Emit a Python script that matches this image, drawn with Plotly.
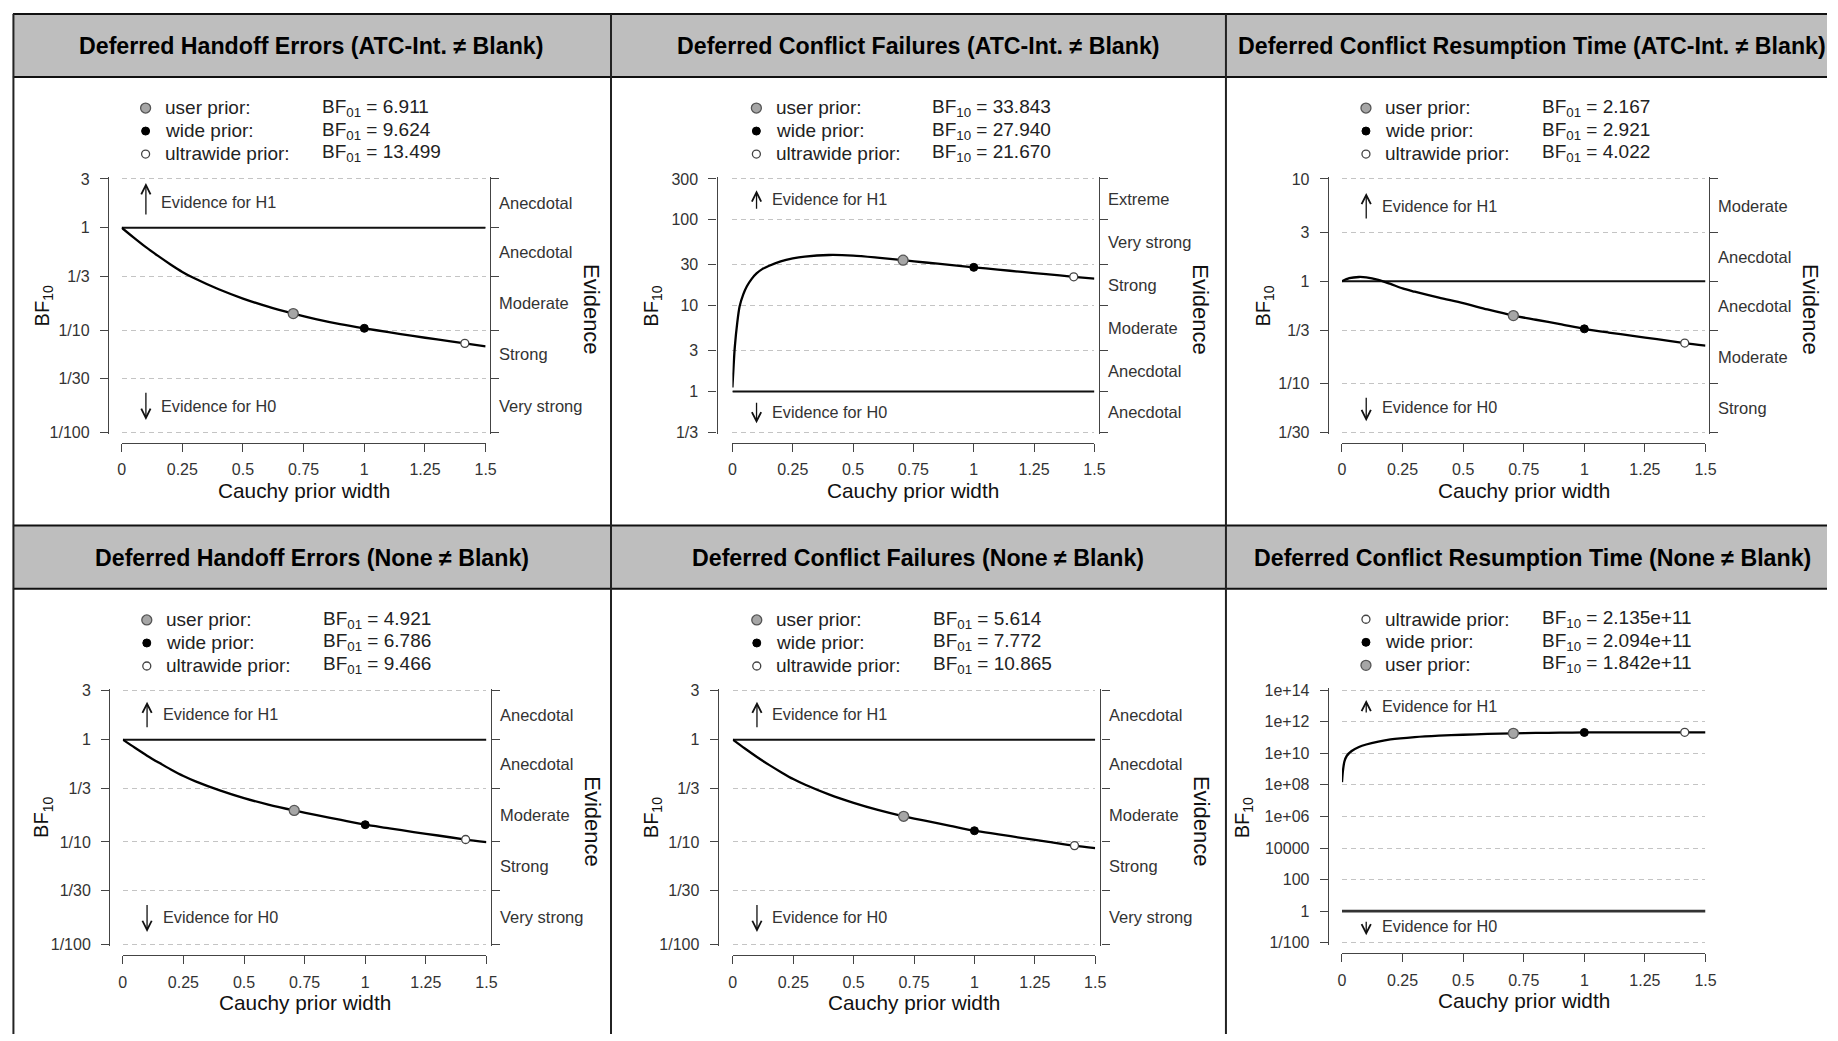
import math
import plotly.graph_objects as go

W, H = 1838, 1041
FONT = "Liberation Sans, Arial, sans-serif"

# ---------------- data ----------------
panel_titles = [
    "Deferred Handoff Errors (ATC-Int. ≠ Blank)",
    "Deferred Conflict Failures (ATC-Int. ≠ Blank)",
    "Deferred Conflict Resumption Time (ATC-Int. ≠ Blank)",
    "Deferred Handoff Errors (None ≠ Blank)",
    "Deferred Conflict Failures (None ≠ Blank)",
    "Deferred Conflict Resumption Time (None ≠ Blank)",
]

x_tick_vals = [0, 0.25, 0.5, 0.75, 1, 1.25, 1.5]
x_tick_text = ["0", "0.25", "0.5", "0.75", "1", "1.25", "1.5"]

prior_names = ["user prior:", "wide prior:", "ultrawide prior:"]
prior_widths = [0.7071, 1.0, 1.4142]

bf_kind = ["01", "10", "01", "01", "01", "10"]
bf_user = [6.911, 33.843, 2.167, 4.921, 5.614, 1.842e11]
bf_wide = [9.624, 27.940, 2.921, 6.786, 7.772, 2.094e11]
bf_ultra = [13.499, 21.670, 4.022, 9.466, 10.865, 2.135e11]
legend_order = [[0, 1, 2], [0, 1, 2], [0, 1, 2], [0, 1, 2], [0, 1, 2], [2, 1, 0]]

# robustness curves (BF10 against Cauchy prior width)
p1_x = [0, 0.05, 0.1, 0.15, 0.2, 0.25, 0.3, 0.4, 0.5, 0.6, 0.7071, 0.8, 0.9, 1.0, 1.1, 1.2, 1.3, 1.4142, 1.5]
p1_y = [1.0, 0.80, 0.645, 0.53, 0.44, 0.37, 0.32, 0.25, 0.203, 0.170, 0.1447, 0.128, 0.1143, 0.1039, 0.0953,
        0.0875, 0.0809, 0.0741, 0.0692]

p2_x = [0, 0.005, 0.01, 0.02, 0.03, 0.045, 0.06, 0.08, 0.1, 0.125, 0.15, 0.2, 0.25, 0.3, 0.4, 0.5, 0.6,
        0.7071, 0.8, 0.9, 1.0, 1.1, 1.2, 1.3, 1.4142, 1.5]
p2_y = [1.11, 2.0, 3.3, 6.3, 9.8, 13.5, 16.8, 20.5, 23.7, 26.8, 29.0, 32.8, 35.5, 37.3, 38.9, 38.3, 36.3,
        33.843, 31.8, 29.85, 27.94, 26.3, 24.7, 23.3, 21.67, 20.6]

p3_x = [0, 0.03, 0.07, 0.1, 0.15, 0.2, 0.25, 0.3, 0.4, 0.5, 0.6, 0.7071, 0.8, 0.9, 1.0, 1.1, 1.2, 1.3, 1.4142, 1.5]
p3_y = [1.0, 1.07, 1.10, 1.09, 1.03, 0.94, 0.85, 0.79, 0.69, 0.61, 0.53, 0.4615, 0.42, 0.38, 0.3423, 0.315,
        0.292, 0.271, 0.2486, 0.235]

p4_x = [0, 0.05, 0.1, 0.15, 0.2, 0.25, 0.3, 0.4, 0.5, 0.6, 0.7071, 0.8, 0.9, 1.0, 1.1, 1.2, 1.3, 1.4142, 1.5]
p4_y = [1.0, 0.832, 0.697, 0.593, 0.508, 0.441, 0.391, 0.319, 0.268, 0.232, 0.2032, 0.183, 0.164, 0.1474,
        0.136, 0.125, 0.1156, 0.1056, 0.0998]

p5_x = [0, 0.05, 0.1, 0.15, 0.2, 0.25, 0.3, 0.4, 0.5, 0.6, 0.7071, 0.8, 0.9, 1.0, 1.1, 1.2, 1.3, 1.4142, 1.5]
p5_y = [1.0, 0.819, 0.677, 0.567, 0.481, 0.412, 0.362, 0.290, 0.241, 0.2056, 0.1781, 0.1607, 0.1439, 0.1287,
        0.1186, 0.1091, 0.1009, 0.0920, 0.0871]

p6_x = [0, 0.004, 0.01, 0.02, 0.04, 0.07, 0.1, 0.15, 0.2, 0.3, 0.4, 0.5, 0.6, 0.7071, 0.8, 0.9, 1.0, 1.1, 1.2,
        1.3, 1.4142, 1.5]
p6_y = [1.5e8, 8e8, 3e9, 7e9, 1.4e10, 2.5e10, 3.6e10, 5.5e10, 7.5e10, 1.05e11, 1.3e11, 1.5e11, 1.68e11,
        1.842e11, 1.95e11, 2.03e11, 2.094e11, 2.115e11, 2.127e11, 2.132e11, 2.135e11, 2.136e11]

curves_x = [p1_x, p2_x, p3_x, p4_x, p5_x, p6_x]
curves_y = [p1_y, p2_y, p3_y, p4_y, p5_y, p6_y]

ticks_a = [3, 1, 1 / 3, 1 / 10, 1 / 30, 1 / 100]
ticks_a_text = ["3", "1", "1/3", "1/10", "1/30", "1/100"]
ticks_b = [300, 100, 30, 10, 3, 1, 1 / 3]
ticks_b_text = ["300", "100", "30", "10", "3", "1", "1/3"]
ticks_c = [10, 3, 1, 1 / 3, 1 / 10, 1 / 30]
ticks_c_text = ["10", "3", "1", "1/3", "1/10", "1/30"]
ticks_d = [1e14, 1e12, 1e10, 1e8, 1e6, 1e4, 100, 1, 1 / 100]
ticks_d_text = ["1e+14", "1e+12", "1e+10", "1e+08", "1e+06", "10000", "100", "1", "1/100"]

evid_a = ["Anecdotal", "Anecdotal", "Moderate", "Strong", "Very strong"]
evid_b = ["Extreme", "Very strong", "Strong", "Moderate", "Anecdotal", "Anecdotal"]
evid_c = ["Moderate", "Anecdotal", "Anecdotal", "Moderate", "Strong"]

panel_ticks = [ticks_a, ticks_b, ticks_c, ticks_a, ticks_a, ticks_d]
panel_ticks_text = [ticks_a_text, ticks_b_text, ticks_c_text, ticks_a_text, ticks_a_text, ticks_d_text]
panel_evid = [evid_a, evid_b, evid_c, evid_a, evid_a, None]

# ---------------- geometry (pixels) ----------------
geom = [
    dict(x0=118.6, x1=485.6, yt=175.1, yb=431.7, yl=104.8, xl=442.2, ra=490.3, bfx=39.5, bfy=304,
         h1=(195.8, 33, 198.4), h0=(404.8, 28.7, 404.7), cx=310.5, head=40),
    dict(x0=734.4, x1=1099.4, yt=175.1, yb=431.7, yl=718.4, xl=442.2, ra=1104.2, bfx=653.8, bfy=304,
         h1=(196.7, 20, 195.5), h0=(411.6, 22, 410.7), cx=922, head=40),
    dict(x0=1349, x1=1715.5, yt=175.1, yb=431.7, yl=1334.7, xl=442.2, ra=1719.3, bfx=1270.7, bfy=304,
         h1=(202.8, 27, 202.2), h0=(408, 25, 406.4), cx=1541, head=40),
    dict(x0=119.8, x1=486.4, yt=693.5, yb=950.1, yl=106, xl=961.2, ra=491.1, bfx=39.5, bfy=822,
         h1=(718, 27, 717.3), h0=(923.5, 28.5, 922.6), cx=310.5, head=558.6),
    dict(x0=734.8, x1=1100.2, yt=693.5, yb=950.1, yl=719.6, xl=961.2, ra=1105.4, bfx=653.8, bfy=822,
         h1=(718, 27, 717.3), h0=(923.5, 28.5, 922.6), cx=922, head=558.6),
    dict(x0=1349, x1=1715.5, yt=692.8, yb=948.6, yl=1334.7, xl=959.2, ra=None, bfx=1249.4, bfy=822.3,
         h1=(709.7, 14, 708.7), h0=(933.6, 15, 932), cx=1541, head=558.6),
]


def px(x):
    return x / W


def py(y):
    return 1 - y / H


AX_COL = "#444444"
TXT_COL = "#333333"

fig = go.Figure()
layout = dict(
    width=W, height=H, margin=dict(l=0, r=0, t=0, b=0),
    paper_bgcolor="white", plot_bgcolor="rgba(0,0,0,0)",
    font=dict(family=FONT, color="#222222"),
    showlegend=True, hovermode=False,
)
annotations = []
shapes = []

marker_styles = [
    dict(size=10, color="#a6a6a6", line=dict(color="#555555", width=1.3)),
    dict(size=8, color="#000000", line=dict(color="#000000", width=1)),
    dict(size=8, color="#ffffff", line=dict(color="#444444", width=1.3)),
]

for i in range(6):
    g = geom[i]
    n = i + 1
    sfx = "" if n == 1 else str(n)
    xref, yref = "x" + sfx, "y" + sfx
    tv = panel_ticks[i]
    hi, lo = math.log10(tv[0]), math.log10(tv[-1])
    dpp = (hi - lo) / (g["yb"] - g["yt"])
    pad = 2
    yrange = [lo - pad * dpp, hi + pad * dpp]
    ydom = [py(g["yb"] + pad), py(g["yt"] - pad)]

    layout["xaxis" + sfx] = dict(
        domain=[px(g["x0"]), px(g["x1"])], range=[0, 1.5], anchor="free", position=py(g["xl"]),
        tickmode="array", tickvals=x_tick_vals, ticktext=x_tick_text,
        ticks="outside", ticklen=8, tickwidth=1.2, tickcolor=AX_COL,
        showline=True, linecolor=AX_COL, linewidth=1.3,
        showgrid=False, zeroline=False, ticklabelstandoff=4,
        tickfont=dict(size=16, color=TXT_COL, family=FONT),
    )
    layout["yaxis" + sfx] = dict(
        domain=ydom, type="log", range=yrange, anchor="free", position=px(g["yl"]),
        tickmode="array", tickvals=tv, ticktext=panel_ticks_text[i],
        ticks="outside", ticklen=8, tickwidth=1.2, tickcolor=AX_COL,
        showline=True, linecolor=AX_COL, linewidth=1.3,
        showgrid=True, gridcolor="#c4c4c4", gridwidth=1.3, griddash="5px,4px",
        zeroline=False, ticklabelstandoff=7,
        tickfont=dict(size=16, color=TXT_COL, family=FONT),
    )

    # right evidence axis
    if panel_evid[i] is not None:
        rn = 6 + n
        layout["yaxis" + str(rn)] = dict(
            overlaying=yref, side="right", anchor="free", position=px(g["ra"]),
            type="log", range=yrange,
            tickmode="array", tickvals=tv, showticklabels=False,
            ticks="outside", ticklen=8, tickwidth=1.2, tickcolor=AX_COL,
            showline=True, linecolor=AX_COL, linewidth=1.3,
            showgrid=False, zeroline=False,
        )
        fig.add_trace(go.Scatter(x=[None], y=[None], xaxis=xref, yaxis="y" + str(rn),
                                 showlegend=False, hoverinfo="skip"))
        for k, lab in enumerate(panel_evid[i]):
            mid = (math.log10(tv[k]) + math.log10(tv[k + 1])) / 2
            annotations.append(dict(text=lab, xref="paper", x=px(g["ra"] + 7), yref=yref, y=mid,
                                    xanchor="left", yanchor="middle", showarrow=False,
                                    font=dict(size=16.5, color=TXT_COL)))
        annotations.append(dict(text="Evidence", xref="paper", x=px(g["ra"] + 102), yref="paper",
                                y=py((g["yt"] + g["yb"]) / 2 + 4), textangle=90, showarrow=False,
                                xanchor="center", yanchor="middle", font=dict(size=22, color="#111111")))

    # reference line at BF = 1
    fig.add_trace(go.Scatter(x=[x_tick_vals[0], x_tick_vals[-1]], y=[1, 1], xaxis=xref, yaxis=yref,
                             mode="lines", line=dict(color="#111111" if n != 6 else "#333333",
                                                     width=2 if n != 6 else 2.8),
                             showlegend=False, hoverinfo="skip"))
    # robustness curve
    fig.add_trace(go.Scatter(x=curves_x[i], y=curves_y[i], xaxis=xref, yaxis=yref, mode="lines",
                             line=dict(color="#000000", width=2.3, shape="spline", smoothing=0.8),
                             showlegend=False, hoverinfo="skip"))

    vals = [bf_user[i], bf_wide[i], bf_ultra[i]]
    legname = "legend" if n == 1 else "legend" + str(n)
    for k in legend_order[i]:
        v = vals[k]
        bf10 = v if bf_kind[i] == "10" else 1 / v
        fig.add_trace(go.Scatter(x=[prior_widths[k]], y=[bf10], xaxis=xref, yaxis=yref, mode="markers",
                                 marker=marker_styles[k], name=" ", legend=legname,
                                 showlegend=True, cliponaxis=False, hoverinfo="skip"))
    rows = [g["yt"] - 72, g["yt"] - 49, g["yt"] - 26]
    layout[legname] = dict(
        x=px(g["x0"] + 24 - 20), y=py(rows[0] - 16.5), xanchor="left", yanchor="top",
        bgcolor="rgba(0,0,0,0)", borderwidth=0, font=dict(size=15.4, color="#222222", family=FONT),
        traceorder="normal", itemclick=False, itemdoubleclick=False, tracegroupgap=0,
    )
    for r, k in enumerate(legend_order[i]):
        v = vals[k]
        s = f"{v:.3e}" if v >= 1e5 else f"{v:.3f}"
        annotations.append(dict(text=prior_names[k], xref="paper", x=px(g["x0"] + 41.5),
                                yref="paper", y=py(rows[r]), xanchor="left", yanchor="middle",
                                showarrow=False, font=dict(size=19, color="#222222")))
        annotations.append(dict(text=f"BF<sub>{bf_kind[i]}</sub> = {s}", xref="paper", x=px(g["x0"] + 199.7),
                                yref="paper", y=py(rows[r]), xanchor="left", yanchor="middle",
                                showarrow=False, font=dict(size=19, color="#222222")))

    # axis titles
    annotations.append(dict(text="BF<sub>10</sub>", xref="paper", x=px(g["bfx"]), yref="paper",
                            y=py(g["bfy"]), textangle=-90, showarrow=False,
                            xanchor="center", yanchor="middle", font=dict(size=20, color="#111111")))
    annotations.append(dict(text="Cauchy prior width", xref="paper", x=px((g["x0"] + g["x1"]) / 2),
                            yref="paper", y=py(g["xl"] + 48), showarrow=False, xanchor="center",
                            yanchor="middle", font=dict(size=20.8, color="#111111")))

    # evidence arrows
    c1, l1, t1 = g["h1"]
    c0, l0, t0 = g["h0"]
    annotations.append(dict(text="", xref=xref, x=0.1, yref="paper", y=py(c1 - l1 / 2), ax=0, ay=l1,
                            showarrow=True, arrowhead=5, arrowsize=1.4, arrowwidth=1.3, arrowcolor="#111111"))
    annotations.append(dict(text="", xref=xref, x=0.1, yref="paper", y=py(c0 + l0 / 2), ax=0, ay=-l0,
                            showarrow=True, arrowhead=5, arrowsize=1.4, arrowwidth=1.3, arrowcolor="#111111"))
    annotations.append(dict(text="Evidence for H1", xref=xref, x=0.156, yref="paper", y=py(t1),
                            xanchor="left", yanchor="middle", showarrow=False,
                            font=dict(size=16.2, color=TXT_COL)))
    annotations.append(dict(text="Evidence for H0", xref=xref, x=0.156, yref="paper", y=py(t0),
                            xanchor="left", yanchor="middle", showarrow=False,
                            font=dict(size=16.2, color=TXT_COL)))

    # header title
    annotations.append(dict(text="<b>" + panel_titles[i] + "</b>", xref="paper",
                            x=px(g["cx"]), yref="paper", y=py(g["head"]),
                            xanchor="center", yanchor="middle", showarrow=False,
                            font=dict(size=23.2, color="#000000")))

# header bands and frame
for (ya, yb) in [(8, 72), (526, 590)]:
    shapes.append(dict(type="rect", xref="paper", yref="paper", x0=px(9), x1=1, y0=py(yb), y1=py(ya),
                       fillcolor="#bebebe", line=dict(width=0), layer="below"))
for yy in [8, 72, 526, 590]:
    shapes.append(dict(type="line", xref="paper", yref="paper", x0=px(9), x1=1, y0=py(yy), y1=py(yy),
                       line=dict(color="#111111", width=2)))
for xx in [9.5, 612, 1232]:
    shapes.append(dict(type="line", xref="paper", yref="paper", x0=px(xx), x1=px(xx), y0=0, y1=py(8),
                       line=dict(color="#222222", width=2)))

layout["annotations"] = annotations
layout["shapes"] = shapes
fig.update_layout(**layout)
fig.write_html("out.html", config={"displayModeBar": False},
               post_script="document.body.style.margin='0px';document.body.style.overflow='hidden';")
